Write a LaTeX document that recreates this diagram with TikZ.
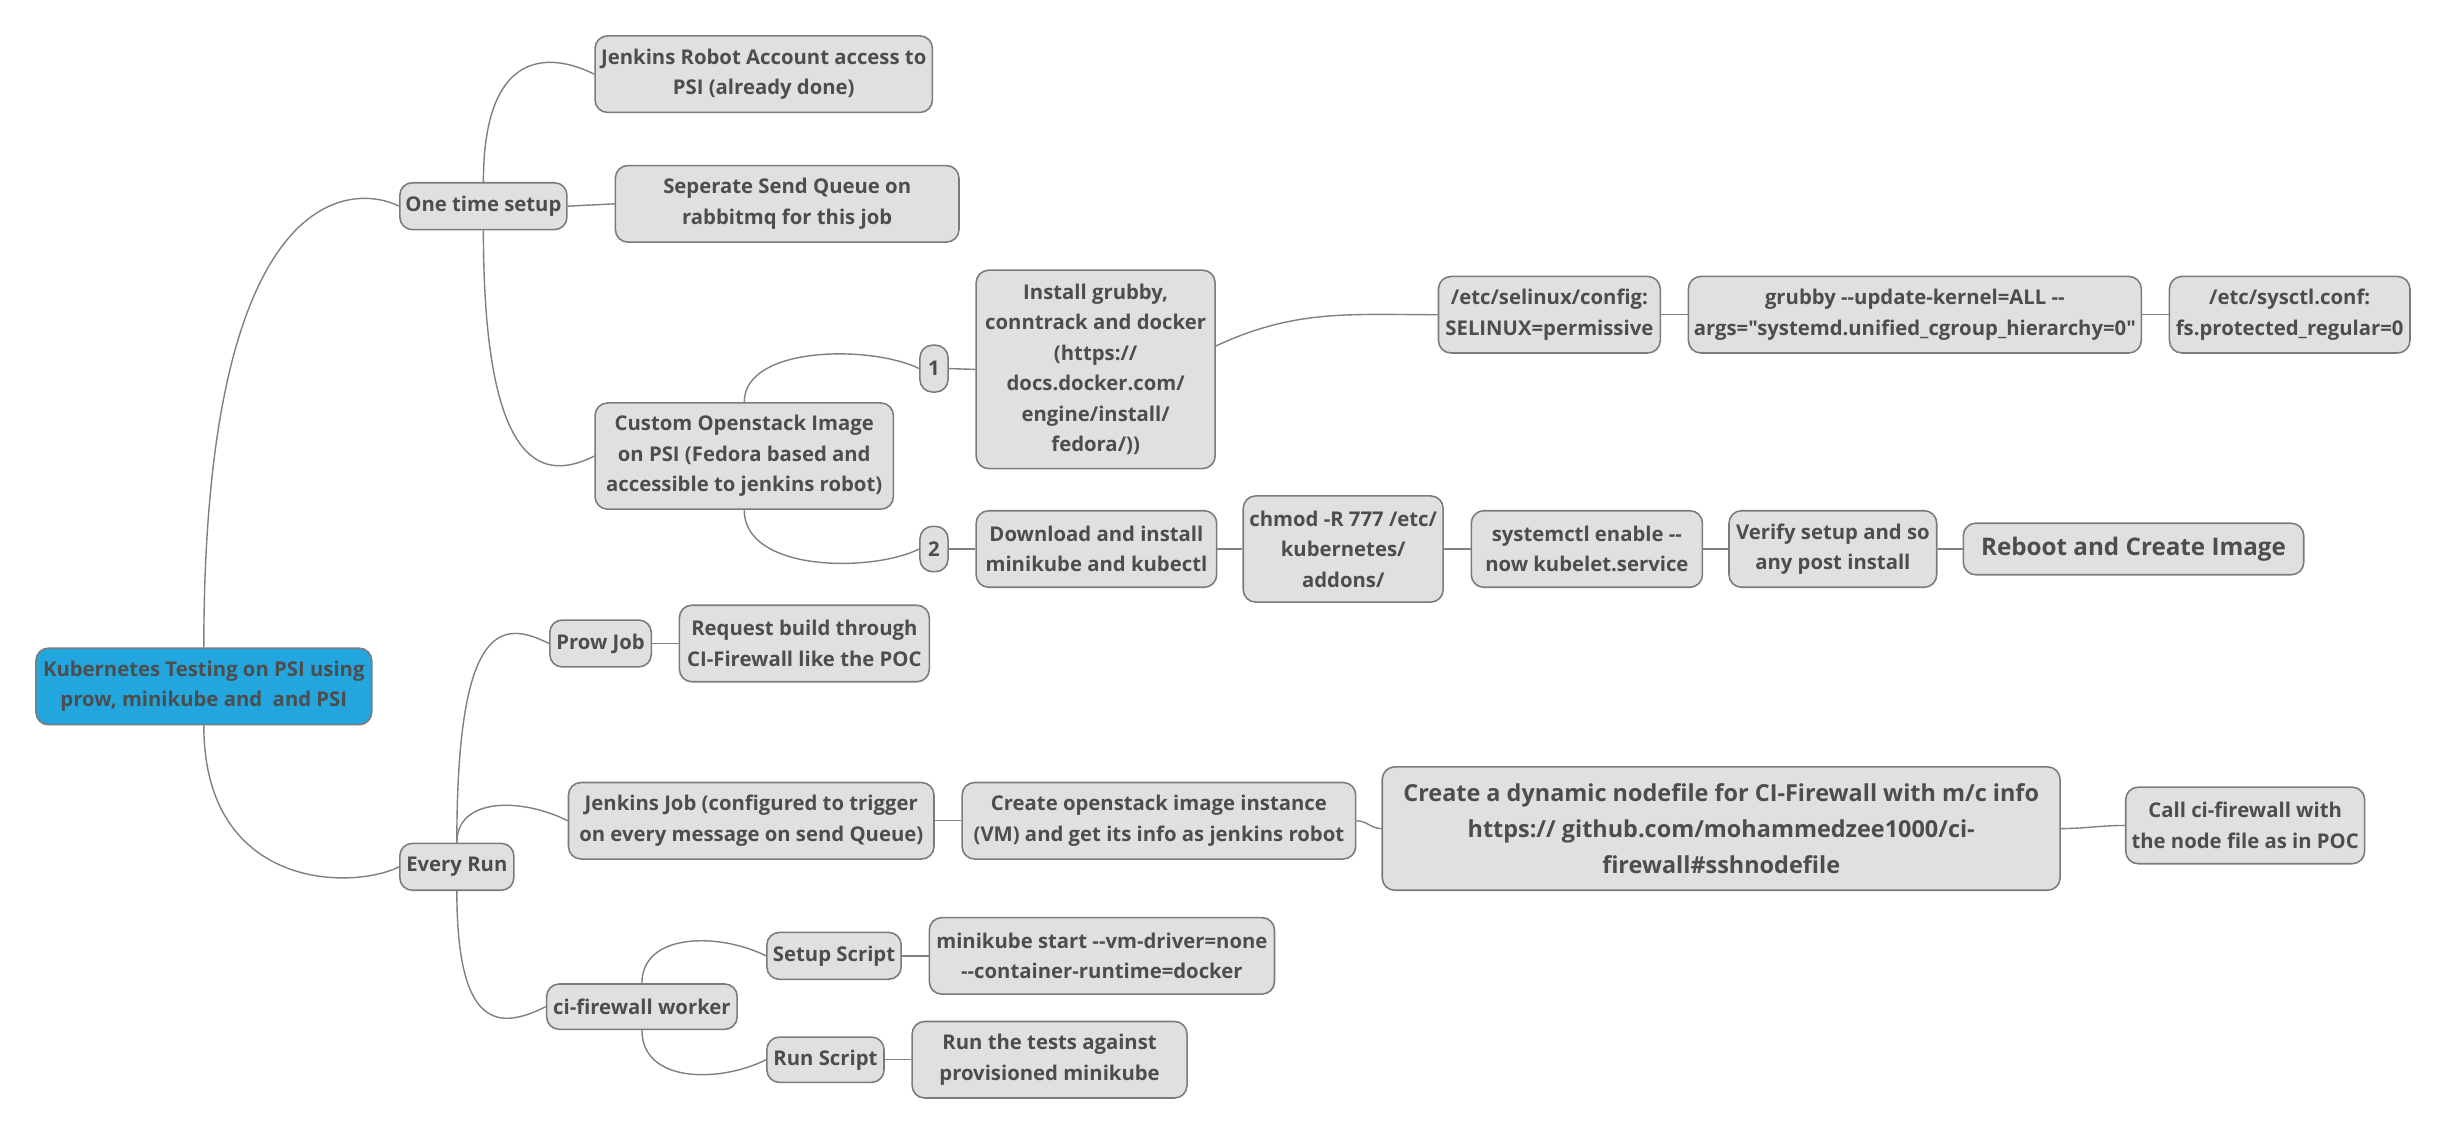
\documentclass[tikz,border=0pt]{standalone}
\usepackage{fontspec}
\setmainfont{Open Sans}[Ligatures=TeXOff]
\usepackage{tikz}
\usetikzlibrary{positioning,calc}

\definecolor{boxfill}{HTML}{E0E0E0}
\definecolor{boxline}{HTML}{7B7B7B}
\definecolor{boxtext}{HTML}{4D4D4D}
\definecolor{rootfill}{HTML}{22A6DD}
\definecolor{branch}{HTML}{808080}

\begin{document}
\begin{tikzpicture}[
  x=1pt, y=-1pt, node distance=17pt,
  box/.style={draw=boxline, fill=boxfill, line width=1pt, rounded corners=8pt, align=center, text=boxtext, inner sep=2pt, font=\bfseries\fontsize{13}{19.5}\selectfont},
  topic/.style={box, fill=rootfill},
  link/.style={draw=branch, line width=0.9pt},
  upto/.style={to path={.. controls ($(\tikztostart |- \tikztotarget)+(0,15pt)$) and ($(\tikztotarget)+(-30pt,15pt)$) .. (\tikztotarget)}},
  downto/.style={to path={.. controls ($(\tikztostart |- \tikztotarget)+(0,-15pt)$) and ($(\tikztotarget)+(-30pt,-15pt)$) .. (\tikztotarget)}}]
\useasboundingbox (0,0) rectangle (1568,728);

% central topic
\node[topic, minimum width=215pt, minimum height=49pt] (root) at (130.5,439.5) {Kubernetes Testing on PSI using\\prow, minikube and\ \ and PSI};

% one time setup
\node[box, minimum width=107pt, minimum height=30pt] (ots) at (309.5,132) {One time setup};
\node[box, minimum width=216pt, minimum height=49pt] (robot) at (489,47.5) {Jenkins Robot Account access to\\PSI (already done)};
\node[box, minimum width=220pt, minimum height=49pt] (queue) at (504,130.5) {Seperate Send Queue on\\rabbitmq for this job};
\node[box, minimum width=191pt, minimum height=68pt] (custom) at (476.5,292) {Custom Openstack Image\\on PSI (Fedora based and\\accessible to jenkins robot)};
\node[box, minimum width=18pt, minimum height=30pt] (one) at (598,236) {1};
\node[box, minimum width=153pt, minimum height=127pt] (grubby) at (701.5,236.5) {Install grubby,\\conntrack and docker\\(https://\\docs.docker.com/\\engine/install/\\fedora/))};
\node[box, minimum width=142pt, minimum height=49pt] (selinux) at (992,201.5) {/etc/selinux/config:\\SELINUX=permissive};
\node[box, minimum width=290pt, minimum height=49pt, right=of selinux] (kernel) {grubby --update-kernel=ALL --\\args="systemd.unified\_cgroup\_hierarchy=0"};
\node[box, minimum width=154pt, minimum height=49pt, right=of kernel] (sysctl) {/etc/sysctl.conf:\\fs.protected\_regular=0};
\node[box, minimum width=18pt, minimum height=29pt] (two) at (598,351.5) {2};
\node[box, minimum width=154pt, minimum height=49pt, right=of two] (dl) {Download and install\\minikube and kubectl};
\node[box, minimum width=128pt, minimum height=68pt, right=16pt of dl] (chmod) {chmod -R 777 /etc/\\kubernetes/\\addons/};
\node[box, minimum width=148pt, minimum height=49pt, right=of chmod] (sysd) {systemctl enable --\\now kubelet.service};
\node[box, minimum width=133pt, minimum height=49pt, right=16pt of sysd] (verify) {Verify setup and so\\any post install};
\node[box, minimum width=218pt, minimum height=33pt, right=16pt of verify, font=\bfseries\fontsize{15.5}{23}\selectfont] (reboot) {Reboot and Create Image};

% every run
\node[box, minimum width=73pt, minimum height=30pt] (every) at (292.5,555) {Every Run};
\node[box, minimum width=65pt, minimum height=30pt] (prow) at (384.5,412) {Prow Job};
\node[box, minimum width=160pt, minimum height=49pt, right=of prow] (request) {Request build through\\CI-Firewall like the POC};
\node[box, minimum width=234pt, minimum height=49pt] (jjob) at (481,525.5) {Jenkins Job (configured to trigger\\on every message on send Queue)};
\node[box, minimum width=252pt, minimum height=49pt, right=of jjob] (instance) {Create openstack image instance\\(VM) and get its info as jenkins robot};
\node[box, minimum width=434pt, minimum height=79pt, font=\bfseries\fontsize{15}{23}\selectfont] (nodefile) at (1102,530.5) {Create a dynamic nodefile for CI-Firewall with m/c info\\https:// github.com/mohammedzee1000/ci-\\firewall\#sshnodefile};
\node[box, minimum width=153pt, minimum height=49pt] (call) at (1437.5,528.5) {Call ci-firewall with\\the node file as in POC};
\node[box, minimum width=122pt, minimum height=29pt] (worker) at (411,644.5) {ci-firewall worker};
\node[box, minimum width=86pt, minimum height=30pt] (setup) at (534,612) {Setup Script};
\node[box, minimum width=221pt, minimum height=49pt, right=of setup] (minis) {minikube start --vm-driver=none\\--container-runtime=docker};
\node[box, minimum width=75pt, minimum height=29pt] (run) at (528.5,678.5) {Run Script};
\node[box, minimum width=176pt, minimum height=49pt, right=of run] (tests) {Run the tests against\\provisioned minikube};

% branches
\draw[link] (root.north) to[upto] (ots.west);
\draw[link] (root.south) to[downto] (every.west);
\draw[link] (ots.north) to[upto] (robot.west);
\draw[link] (ots.east) -- (queue.west);
\draw[link] (ots.south) to[downto] (custom.west);
\draw[link] (custom.north) to[upto] (one.west);
\draw[link] (custom.south) to[downto] (two.west);
\draw[link] (one.east) -- (grubby.west);
\draw[link] ([yshift=15pt]grubby.east) to[out=25, in=180] (selinux.west);
\draw[link] (selinux) -- (kernel);
\draw[link] (kernel) -- (sysctl);
\draw[link] (two) -- (dl);
\draw[link] (dl) -- (chmod);
\draw[link] (chmod) -- (sysd);
\draw[link] (sysd) -- (verify);
\draw[link] (verify) -- (reboot);
\draw[link] (every.north) to[upto] (prow.west);
\draw[link] (every.north) to[upto] (jjob.west);
\draw[link] (every.south) to[downto] (worker.west);
\draw[link] (prow) -- (request);
\draw[link] (jjob) -- (instance);
\draw[link] (instance.east) to[out=0, in=180] (nodefile.west);
\draw[link] (nodefile.east) to[out=0, in=180] (call.west);
\draw[link] (worker.north) to[upto] (setup.west);
\draw[link] (worker.south) to[downto] (run.west);
\draw[link] (setup) -- (minis);
\draw[link] (run) -- (tests);
\end{tikzpicture}
\end{document}
